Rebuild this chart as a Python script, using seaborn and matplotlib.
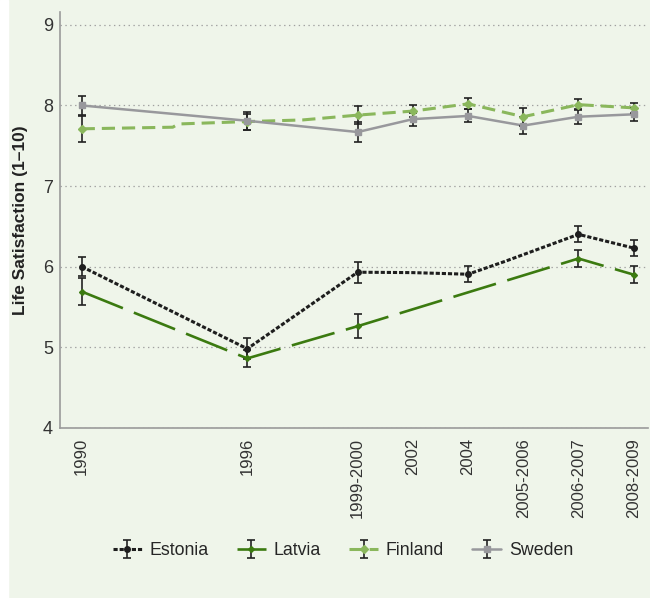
#!/usr/bin/env python3
import numpy as np
import pandas as pd
import matplotlib.pyplot as plt
import seaborn as sns
from matplotlib.patches import Rectangle
from matplotlib.legend_handler import HandlerTuple

# survey waves and where they sit on the time axis
waves = ['1990', '1996', '1999-2000', '2002', '2004', '2005-2006', '2006-2007', '2008-2009']
wave_pos = [0, 6, 10, 12, 14, 16, 18, 20]

# mean life satisfaction at each wave (nan = not surveyed)
estonia = [6.00, 4.98, 5.93, np.nan, 5.905, np.nan, 6.40, 6.23]
estonia_err = [0.12, 0.13, 0.13, np.nan, 0.10, np.nan, 0.10, 0.10]
latvia = [5.69, 4.86, 5.26, np.nan, np.nan, np.nan, 6.10, 5.90]
latvia_err = [0.17, 0.11, 0.15, np.nan, np.nan, np.nan, 0.11, 0.11]
finland = [7.71, 7.80, 7.88, 7.93, 8.02, 7.86, 8.01, 7.97]
finland_err = [0.16, 0.10, 0.11, 0.07, 0.07, 0.11, 0.07, 0.06]
sweden = [8.00, 7.81, 7.67, 7.83, 7.87, 7.75, 7.86, 7.89]
sweden_err = [0.12, 0.11, 0.12, 0.08, 0.08, 0.11, 0.09, 0.08]

# the connecting lines bend in a few places between waves
estonia_line_x = [0, 6, 10, 12, 14, 15.3, 18, 20]
estonia_line_y = [6.00, 4.98, 5.93, 5.925, 5.905, 6.06, 6.40, 6.23]
latvia_line_x = [0, 6, 10, 18, 20]
latvia_line_y = [5.69, 4.86, 5.26, 6.10, 5.90]
finland_line_x = [0, 3.3, 3.5, 6, 8.0, 10, 12, 14, 16, 18, 20]
finland_line_y = [7.71, 7.73, 7.77, 7.80, 7.82, 7.88, 7.93, 8.02, 7.86, 8.01, 7.97]
sweden_line_x = wave_pos
sweden_line_y = sweden

bg = '#eff5ea'
sns.set_theme(style='white')
plt.rcParams['font.family'] = ['Liberation Sans', 'DejaVu Sans']
plt.rcParams['lines.scale_dashes'] = False

series = [
    ('Estonia', estonia, estonia_err, estonia_line_x, estonia_line_y,
     '#1e1e1e', (0, (3, 1.4)), 2.2, 'o', 4),
    ('Latvia', latvia, latvia_err, latvia_line_x, latvia_line_y,
     '#3b7a10', (0, (32, 8.5)), 1.9, 'D', 3),
    ('Finland', finland, finland_err, finland_line_x, finland_line_y,
     '#8ab75c', (0, (9.5, 5)), 2.2, 'D', 4),
    ('Sweden', sweden, sweden_err, sweden_line_x, sweden_line_y,
     '#98989c', '-', 1.8, 's', 5),
]

fig = plt.figure(figsize=(6.5, 5.98), dpi=100, facecolor=bg)
fig.add_artist(Rectangle((0, 0), 8 / 650, 1, transform=fig.transFigure,
                         color='white', zorder=-1))
ax = fig.add_axes([60 / 650, 1 - 427.7 / 598, 588 / 650, 415.7 / 598])
ax.set_facecolor(bg)

handles = []
names = []
for name, vals, errs, lx, ly, color, ls, lw, marker, ms in series:
    df = pd.DataFrame({'pos': lx, 'value': ly})
    sns.lineplot(x='pos', y='value', data=df, ax=ax, color=color,
                 linestyle=ls, linewidth=lw, sort=False, estimator=None,
                 errorbar=None, legend=False, zorder=2)
    ln = ax.lines[-1]
    eb = ax.errorbar(wave_pos, vals, yerr=errs, fmt=marker, ms=ms,
                     color=color, ecolor='#222222', elinewidth=1.2,
                     capsize=3, capthick=1.2, zorder=3)
    handles.append((ln, eb))
    names.append(name)

ax.set_xlim(-0.786, 20.52)
ax.set_ylim(4, 9.16)
ax.set_yticks([4, 5, 6, 7, 8, 9])
ax.set_xticks(wave_pos)
ax.set_xticklabels(waves, rotation=90, fontsize=12, color='#333333')
ax.tick_params(axis='y', labelsize=13, labelcolor='#333333', length=0, pad=5)
ax.tick_params(axis='x', length=0, pad=7.5)
ax.set_xlabel('')
ax.set_ylabel('Life Satisfaction (1\u201310)', fontsize=12.5,
              fontweight='bold', color='#222222')
ax.yaxis.set_label_coords(-0.054, 0.5)

ax.yaxis.grid(True, linestyle=(0, (1, 2.5)), color='#a0a0a0', linewidth=0.9)
ax.xaxis.grid(False)
sns.despine(ax=ax)
for side in ['left', 'bottom']:
    ax.spines[side].set_color('#9a9a9a')
    ax.spines[side].set_linewidth(1.2)

fig.legend(handles, names, handler_map={tuple: HandlerTuple(ndivide=1)},
           loc='center', bbox_to_anchor=(0.528, 0.079), ncol=4,
           frameon=False, fontsize=12.8, handlelength=1.6,
           handletextpad=0.45, columnspacing=1.6)

plt.savefig('out.png', dpi=100, facecolor=fig.get_facecolor())
